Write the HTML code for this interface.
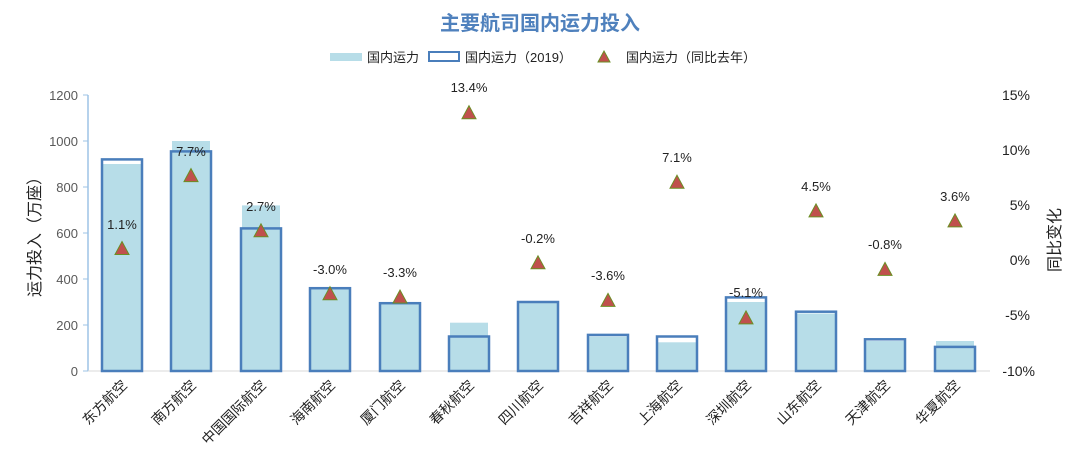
<!DOCTYPE html>
<html><head><meta charset="utf-8"><style>
body{margin:0;background:#fff}
svg{display:block;font-family:"Liberation Sans","Noto Sans CJK SC",sans-serif}
</style></head><body>
<svg width="1080" height="466" viewBox="0 0 1080 466" xmlns="http://www.w3.org/2000/svg">
<rect width="1080" height="466" fill="#fff"/>
<text x="540" y="30" text-anchor="middle" font-size="20" font-weight="bold" fill="#4f81bd">主要航司国内运力投入</text>
<rect x="330" y="53" width="32" height="8" fill="#b7dde8"/>
<text x="367" y="62" font-size="13" fill="#222">国内运力</text>
<rect x="429" y="52" width="30" height="9" fill="none" stroke="#4a7ebb" stroke-width="2"/>
<text x="465" y="62" font-size="13" fill="#222">国内运力（2019）</text>
<polygon points="604,51 610,62 598,62" fill="#c0504d" stroke="#6b8e23" stroke-width="1"/>
<text x="626" y="62" font-size="13" fill="#222">国内运力（同比去年）</text>
<line x1="88" y1="95" x2="88" y2="371" stroke="#9dc3e6" stroke-width="1.5"/>
<line x1="88" y1="371" x2="990" y2="371" stroke="#d9d9d9" stroke-width="1"/>
<g stroke="#9dc3e6" stroke-width="1">
<line x1="83" y1="95" x2="88" y2="95"/><line x1="83" y1="141" x2="88" y2="141"/><line x1="83" y1="187" x2="88" y2="187"/><line x1="83" y1="233" x2="88" y2="233"/><line x1="83" y1="279" x2="88" y2="279"/><line x1="83" y1="325" x2="88" y2="325"/><line x1="83" y1="371" x2="88" y2="371"/>
</g>
<g font-size="13" fill="#595959" text-anchor="end">
<text x="78" y="100">1200</text><text x="78" y="146">1000</text><text x="78" y="192">800</text><text x="78" y="238">600</text><text x="78" y="284">400</text><text x="78" y="330">200</text><text x="78" y="376">0</text>
</g>
<g font-size="14" fill="#222" text-anchor="end">
<text x="1030" y="100">15%</text><text x="1030" y="155">10%</text><text x="1030" y="210">5%</text><text x="1030" y="265">0%</text><text x="1030" y="320">-5%</text><text x="1035" y="376">-10%</text>
</g>
<text transform="translate(40,233) rotate(-90)" text-anchor="middle" font-size="16" fill="#222">运力投入（万座）</text>
<text transform="translate(1060,240) rotate(-90)" text-anchor="middle" font-size="16" fill="#222">同比变化</text>
<g fill="#b7dde8">
<rect x="103" y="164" width="38" height="207"/>
<rect x="172" y="141" width="38" height="230"/>
<rect x="242" y="205.4" width="38" height="165.6"/>
<rect x="311" y="287" width="38" height="84"/>
<rect x="381" y="304.3" width="38" height="66.7"/>
<rect x="450" y="322.7" width="38" height="48.3"/>
<rect x="519" y="303" width="38" height="68"/>
<rect x="589" y="336.5" width="38" height="34.5"/>
<rect x="658" y="342.3" width="38" height="28.7"/>
<rect x="727" y="302" width="38" height="69"/>
<rect x="797" y="313.5" width="38" height="57.5"/>
<rect x="866" y="341" width="38" height="30"/>
<rect x="936" y="341" width="38" height="30"/>
</g>
<g fill="none" stroke="#4a7ebb" stroke-width="2.5">
<rect x="102" y="159.4" width="40" height="211.6"/>
<rect x="171" y="151.4" width="40" height="219.6"/>
<rect x="241" y="228.4" width="40" height="142.6"/>
<rect x="310" y="288.2" width="40" height="82.8"/>
<rect x="380" y="303.2" width="40" height="67.8"/>
<rect x="449" y="336.5" width="40" height="34.5"/>
<rect x="518" y="302" width="40" height="69"/>
<rect x="588" y="334.9" width="40" height="36.1"/>
<rect x="657" y="336.5" width="40" height="34.5"/>
<rect x="726" y="297.4" width="40" height="73.6"/>
<rect x="796" y="311.7" width="40" height="59.3"/>
<rect x="865" y="339.3" width="40" height="31.7"/>
<rect x="935" y="346.9" width="40" height="24.1"/>
</g>
<g fill="#c0504d" stroke="#6b8e23" stroke-width="1">
<polygon points="122,241.5 129,254.5 115,254.5"/>
<polygon points="191,168.6 198,181.6 184,181.6"/>
<polygon points="261,223.8 268,236.8 254,236.8"/>
<polygon points="330,286.7 337,299.7 323,299.7"/>
<polygon points="400,290 407,303 393,303"/>
<polygon points="469,105.7 476,118.7 462,118.7"/>
<polygon points="538,255.8 545,268.8 531,268.8"/>
<polygon points="608,293.4 615,306.4 601,306.4"/>
<polygon points="677,175.2 684,188.2 670,188.2"/>
<polygon points="746,310.9 753,323.9 739,323.9"/>
<polygon points="816,203.9 823,216.9 809,216.9"/>
<polygon points="885,262.4 892,275.4 878,275.4"/>
<polygon points="955,213.9 962,226.9 948,226.9"/>
</g>
<g font-size="13" fill="#222" text-anchor="middle">
<text x="122" y="229">1.1%</text>
<text x="191" y="156">7.7%</text>
<text x="261" y="211">2.7%</text>
<text x="330" y="274">-3.0%</text>
<text x="400" y="277">-3.3%</text>
<text x="469" y="92">13.4%</text>
<text x="538" y="243">-0.2%</text>
<text x="608" y="280">-3.6%</text>
<text x="677" y="162">7.1%</text>
<text x="746" y="297">-5.1%</text>
<text x="816" y="191">4.5%</text>
<text x="885" y="249">-0.8%</text>
<text x="955" y="201">3.6%</text>
</g>
<g font-size="14" fill="#222" text-anchor="end">
<text transform="translate(128,386) rotate(-45)">东方航空</text>
<text transform="translate(197,386) rotate(-45)">南方航空</text>
<text transform="translate(267,386) rotate(-45)">中国国际航空</text>
<text transform="translate(336,386) rotate(-45)">海南航空</text>
<text transform="translate(406,386) rotate(-45)">厦门航空</text>
<text transform="translate(475,386) rotate(-45)">春秋航空</text>
<text transform="translate(544,386) rotate(-45)">四川航空</text>
<text transform="translate(614,386) rotate(-45)">吉祥航空</text>
<text transform="translate(683,386) rotate(-45)">上海航空</text>
<text transform="translate(752,386) rotate(-45)">深圳航空</text>
<text transform="translate(822,386) rotate(-45)">山东航空</text>
<text transform="translate(891,386) rotate(-45)">天津航空</text>
<text transform="translate(961,386) rotate(-45)">华夏航空</text>
</g>
</svg>
</body></html>
